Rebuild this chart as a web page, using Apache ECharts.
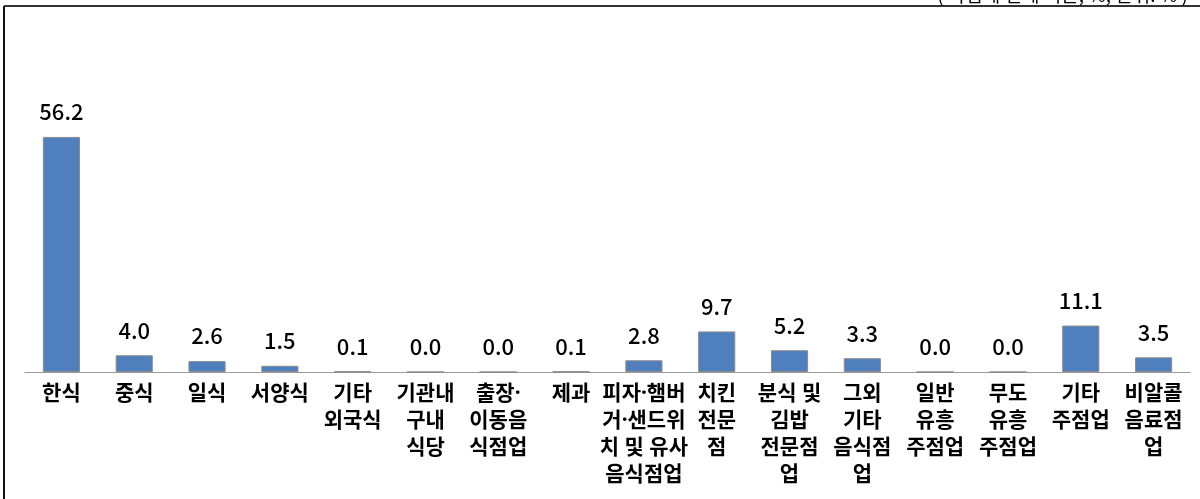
<!DOCTYPE html>
<html>
<head>
<meta charset="utf-8">
<script src="https://cdn.jsdelivr.net/npm/echarts@6/dist/echarts.min.js"></script>
<style>
  html, body { margin: 0; padding: 0; background: #fff; }
  #main { width: 1200px; height: 499px; }
</style>
</head>
<body>
<div id="main"></div>
<script>
let categories = ['한식', '중식', '일식', '서양식', '기타\n외국식', '기관내\n구내\n식당', '출장·\n이동음\n식점업', '제과',
  '피자·햄버\n거·샌드위\n치 및 유사\n음식점업', '치킨\n전문\n점', '분식 및\n김밥\n전문점\n업', '그외\n기타\n음식점\n업',
  '일반\n유흥\n주점업', '무도\n유흥\n주점업', '기타\n주점업', '비알콜\n음료점\n업']
let values = [56.2, 4.0, 2.6, 1.5, 0.1, 0.0, 0.0, 0.1, 2.8, 9.7, 5.2, 3.3, 0.0, 0.0, 11.1, 3.5]
let unitNote = '( 사업체 전체 기준, %, 단위: % )'

let chart = echarts.init(document.getElementById('main'))
let font = '"Noto Sans CJK KR", "Noto Sans", sans-serif'
// latin first so the middle dot stays narrow
let labelFont = '"Noto Sans", "Noto Sans CJK KR", sans-serif'

let option = {
  animation: false,
  textStyle: { fontFamily: font },
  grid: {
    left: 25,
    right: 10,
    top: 121,
    bottom: 127
  },
  xAxis: {
    type: 'category',
    data: categories,
    axisTick: { show: false },
    axisLine: { lineStyle: { color: '#999', width: 1 } },
    axisLabel: {
      interval: 0,
      margin: 9,
      color: '#000',
      fontSize: 21,
      fontWeight: 'bold',
      lineHeight: 27,
      fontFamily: labelFont
    }
  },
  yAxis: {
    type: 'value',
    min: 0,
    max: 60,
    show: false,
    splitLine: { show: false }
  },
  series: [
    {
      type: 'bar',
      data: values,
      barWidth: '51%',
      itemStyle: {
        color: '#4f7fbc',
        borderColor: '#8c8c8c',
        borderWidth: 1
      },
      label: {
        show: true,
        position: 'top',
        distance: 14,
        color: '#000',
        fontSize: 22,
        fontWeight: 500,
        fontFamily: font,
        formatter: function (p) { return p.value.toFixed(1) }
      }
    }
  ],
  graphic: [
    { type: 'line', shape: { x1: 4, y1: 6, x2: 1200, y2: 6 }, style: { stroke: '#333', lineWidth: 2 } },
    { type: 'line', shape: { x1: 4, y1: 6, x2: 4, y2: 499 }, style: { stroke: '#111', lineWidth: 2 } },
    { type: 'text', right: 12, top: -15, style: { text: unitNote, fontSize: 19, fill: '#000', fontFamily: font } }
  ]
};

chart.setOption(option);
</script>
</body>
</html>
